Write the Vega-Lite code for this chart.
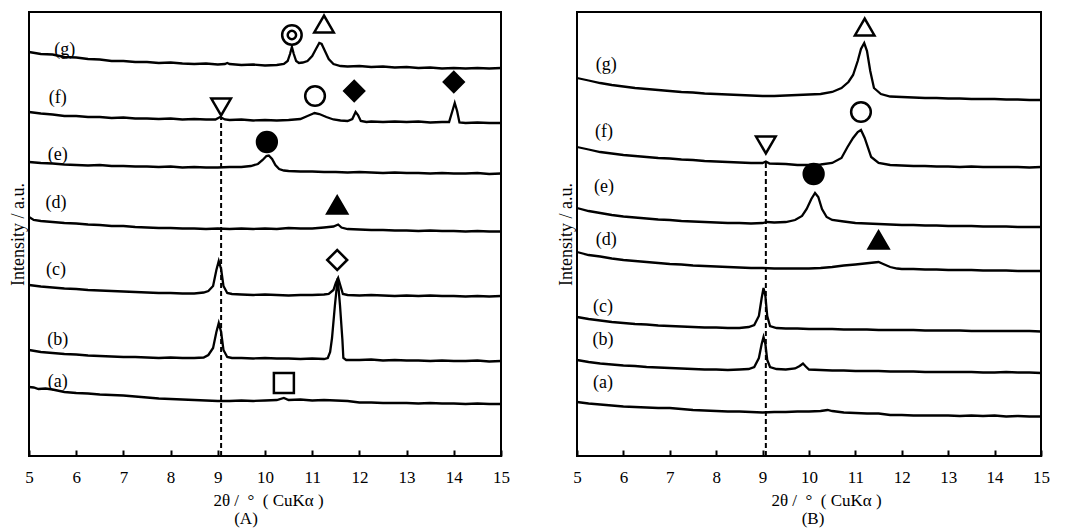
{
"$schema": "https://vega.github.io/schema/vega-lite/v6.json",
"padding": {"left": 8, "top": 9, "right": 5, "bottom": 0},
"background": "white",
"spacing": 76,
"bounds": "flush",
"config": {
  "view": {"stroke": "black", "strokeWidth": 2},
  "font": "Liberation Serif",
  "axis": {"grid": false, "labelFont": "Liberation Serif", "titleFont": "Liberation Serif", "labelColor": "black", "titleColor": "black", "titleFontWeight": "normal"},
  "title": {"font": "Liberation Serif", "fontSize": 17, "fontWeight": "normal", "color": "black"}
},
"datasets": {
  "lineA": [
{"s":"g","x":5.0,"y":404},{"s":"g","x":5.25,"y":402},{"s":"g","x":5.5,"y":401.5},{"s":"g","x":5.75,"y":399},{"s":"g","x":6.0,"y":398.5},{"s":"g","x":6.25,"y":397},{"s":"g","x":6.5,"y":396.5},{"s":"g","x":6.75,"y":395},{"s":"g","x":7.0,"y":395},{"s":"g","x":7.25,"y":394},{"s":"g","x":7.5,"y":394},{"s":"g","x":7.75,"y":393},{"s":"g","x":8.0,"y":393.5},{"s":"g","x":8.25,"y":392.5},{"s":"g","x":8.5,"y":392},{"s":"g","x":8.75,"y":392.5},{"s":"g","x":9.0,"y":391.5},{"s":"g","x":9.15,"y":392},{"s":"g","x":9.2,"y":393},{"s":"g","x":9.25,"y":392},{"s":"g","x":9.5,"y":391},{"s":"g","x":9.75,"y":391.5},{"s":"g","x":10.0,"y":390.5},{"s":"g","x":10.25,"y":391},{"s":"g","x":10.4,"y":392},{"s":"g","x":10.48,"y":395},{"s":"g","x":10.53,"y":402},{"s":"g","x":10.57,"y":409},{"s":"g","x":10.61,"y":402},{"s":"g","x":10.66,"y":395},{"s":"g","x":10.72,"y":393},{"s":"g","x":10.8,"y":393.5},{"s":"g","x":10.9,"y":395},{"s":"g","x":11.0,"y":400},{"s":"g","x":11.08,"y":407},{"s":"g","x":11.15,"y":413},{"s":"g","x":11.2,"y":412},{"s":"g","x":11.27,"y":405},{"s":"g","x":11.35,"y":397},{"s":"g","x":11.45,"y":392},{"s":"g","x":11.6,"y":390},{"s":"g","x":11.75,"y":389.5},{"s":"g","x":12.0,"y":390},{"s":"g","x":12.25,"y":389},{"s":"g","x":12.5,"y":389.5},{"s":"g","x":12.75,"y":388.5},{"s":"g","x":13.0,"y":389},{"s":"g","x":13.25,"y":388},{"s":"g","x":13.5,"y":388.5},{"s":"g","x":13.75,"y":387.5},{"s":"g","x":14.0,"y":388},{"s":"g","x":14.25,"y":387.5},{"s":"g","x":14.5,"y":388},{"s":"g","x":14.75,"y":387.5},{"s":"g","x":15.0,"y":388},
{"s":"f","x":5.0,"y":344},{"s":"f","x":5.25,"y":342.5},{"s":"f","x":5.5,"y":341.5},{"s":"f","x":5.75,"y":340},{"s":"f","x":6.0,"y":340},{"s":"f","x":6.25,"y":339},{"s":"f","x":6.5,"y":339},{"s":"f","x":6.75,"y":338},{"s":"f","x":7.0,"y":338.5},{"s":"f","x":7.25,"y":337.5},{"s":"f","x":7.5,"y":337.5},{"s":"f","x":7.75,"y":337},{"s":"f","x":8.0,"y":337.5},{"s":"f","x":8.25,"y":336.5},{"s":"f","x":8.5,"y":337},{"s":"f","x":8.75,"y":336.5},{"s":"f","x":8.95,"y":336.5},{"s":"f","x":9.05,"y":339},{"s":"f","x":9.15,"y":336.5},{"s":"f","x":9.25,"y":336},{"s":"f","x":9.5,"y":336.5},{"s":"f","x":9.75,"y":335.5},{"s":"f","x":10.0,"y":336},{"s":"f","x":10.25,"y":335.5},{"s":"f","x":10.5,"y":336},{"s":"f","x":10.75,"y":337},{"s":"f","x":10.9,"y":340},{"s":"f","x":11.0,"y":342},{"s":"f","x":11.05,"y":343},{"s":"f","x":11.15,"y":342},{"s":"f","x":11.3,"y":339},{"s":"f","x":11.45,"y":336.5},{"s":"f","x":11.6,"y":335.5},{"s":"f","x":11.75,"y":335},{"s":"f","x":11.85,"y":337},{"s":"f","x":11.92,"y":344},{"s":"f","x":11.97,"y":341},{"s":"f","x":12.03,"y":335},{"s":"f","x":12.15,"y":334},{"s":"f","x":12.25,"y":334.5},{"s":"f","x":12.5,"y":334},{"s":"f","x":12.75,"y":334.5},{"s":"f","x":13.0,"y":334},{"s":"f","x":13.25,"y":334.5},{"s":"f","x":13.5,"y":333.5},{"s":"f","x":13.75,"y":334},{"s":"f","x":13.9,"y":334},{"s":"f","x":13.97,"y":345},{"s":"f","x":14.02,"y":353},{"s":"f","x":14.07,"y":345},{"s":"f","x":14.12,"y":333.5},{"s":"f","x":14.25,"y":333},{"s":"f","x":14.5,"y":333.5},{"s":"f","x":14.75,"y":333},{"s":"f","x":15.0,"y":333},
{"s":"e","x":5.0,"y":294},{"s":"e","x":5.25,"y":293},{"s":"e","x":5.5,"y":292.5},{"s":"e","x":5.75,"y":291.5},{"s":"e","x":6.0,"y":291},{"s":"e","x":6.25,"y":290.5},{"s":"e","x":6.5,"y":291},{"s":"e","x":6.75,"y":290},{"s":"e","x":7.0,"y":290},{"s":"e","x":7.25,"y":289.5},{"s":"e","x":7.5,"y":289.5},{"s":"e","x":7.75,"y":289},{"s":"e","x":8.0,"y":289.5},{"s":"e","x":8.25,"y":288.5},{"s":"e","x":8.5,"y":289},{"s":"e","x":8.75,"y":288.5},{"s":"e","x":9.0,"y":288.5},{"s":"e","x":9.25,"y":289},{"s":"e","x":9.5,"y":289},{"s":"e","x":9.7,"y":290},{"s":"e","x":9.85,"y":292},{"s":"e","x":9.95,"y":296},{"s":"e","x":10.03,"y":300},{"s":"e","x":10.08,"y":300.5},{"s":"e","x":10.15,"y":297},{"s":"e","x":10.22,"y":291},{"s":"e","x":10.3,"y":287},{"s":"e","x":10.4,"y":285.5},{"s":"e","x":10.5,"y":285},{"s":"e","x":10.75,"y":284.5},{"s":"e","x":11.0,"y":284.5},{"s":"e","x":11.25,"y":284},{"s":"e","x":11.5,"y":284},{"s":"e","x":11.75,"y":283.5},{"s":"e","x":12.0,"y":284},{"s":"e","x":12.25,"y":283.5},{"s":"e","x":12.5,"y":283},{"s":"e","x":12.75,"y":283.5},{"s":"e","x":13.0,"y":283},{"s":"e","x":13.25,"y":283},{"s":"e","x":13.5,"y":282.5},{"s":"e","x":13.75,"y":283},{"s":"e","x":14.0,"y":282.5},{"s":"e","x":14.25,"y":282.5},{"s":"e","x":14.5,"y":283},{"s":"e","x":14.75,"y":282},{"s":"e","x":15.0,"y":282.5},
{"s":"d","x":5.0,"y":239},{"s":"d","x":5.1,"y":236},{"s":"d","x":5.25,"y":235},{"s":"d","x":5.5,"y":234},{"s":"d","x":5.75,"y":233},{"s":"d","x":6.0,"y":232.5},{"s":"d","x":6.25,"y":231.5},{"s":"d","x":6.5,"y":231},{"s":"d","x":6.75,"y":230},{"s":"d","x":7.0,"y":230},{"s":"d","x":7.25,"y":229},{"s":"d","x":7.5,"y":228.5},{"s":"d","x":7.75,"y":228},{"s":"d","x":8.0,"y":228},{"s":"d","x":8.25,"y":227.5},{"s":"d","x":8.5,"y":227.5},{"s":"d","x":8.75,"y":227},{"s":"d","x":9.0,"y":227.5},{"s":"d","x":9.25,"y":227},{"s":"d","x":9.5,"y":227.5},{"s":"d","x":9.75,"y":227},{"s":"d","x":10.0,"y":227.5},{"s":"d","x":10.25,"y":227},{"s":"d","x":10.5,"y":228},{"s":"d","x":10.75,"y":227.5},{"s":"d","x":11.0,"y":227.5},{"s":"d","x":11.25,"y":228.5},{"s":"d","x":11.45,"y":229.5},{"s":"d","x":11.55,"y":231.5},{"s":"d","x":11.62,"y":228.5},{"s":"d","x":11.75,"y":227},{"s":"d","x":12.0,"y":226.5},{"s":"d","x":12.25,"y":226},{"s":"d","x":12.5,"y":226},{"s":"d","x":12.75,"y":225.5},{"s":"d","x":13.0,"y":225.5},{"s":"d","x":13.25,"y":225},{"s":"d","x":13.5,"y":225.5},{"s":"d","x":13.75,"y":225},{"s":"d","x":14.0,"y":225},{"s":"d","x":14.25,"y":224.5},{"s":"d","x":14.5,"y":225},{"s":"d","x":14.75,"y":224.5},{"s":"d","x":15.0,"y":224.5},
{"s":"c","x":5.0,"y":171},{"s":"c","x":5.25,"y":169.5},{"s":"c","x":5.5,"y":168.5},{"s":"c","x":5.75,"y":167.5},{"s":"c","x":6.0,"y":167},{"s":"c","x":6.25,"y":166},{"s":"c","x":6.5,"y":165.5},{"s":"c","x":6.75,"y":165},{"s":"c","x":7.0,"y":164.5},{"s":"c","x":7.25,"y":164},{"s":"c","x":7.5,"y":163.5},{"s":"c","x":7.75,"y":163},{"s":"c","x":8.0,"y":163},{"s":"c","x":8.25,"y":162.5},{"s":"c","x":8.5,"y":162.5},{"s":"c","x":8.7,"y":163.5},{"s":"c","x":8.8,"y":165},{"s":"c","x":8.9,"y":170},{"s":"c","x":8.97,"y":186},{"s":"c","x":9.02,"y":195},{"s":"c","x":9.07,"y":187},{"s":"c","x":9.12,"y":170},{"s":"c","x":9.2,"y":163},{"s":"c","x":9.3,"y":162},{"s":"c","x":9.5,"y":161.5},{"s":"c","x":9.75,"y":161},{"s":"c","x":10.0,"y":161.5},{"s":"c","x":10.25,"y":161},{"s":"c","x":10.5,"y":160.5},{"s":"c","x":10.75,"y":161},{"s":"c","x":11.0,"y":161},{"s":"c","x":11.25,"y":161.5},{"s":"c","x":11.35,"y":162},{"s":"c","x":11.45,"y":166},{"s":"c","x":11.5,"y":173},{"s":"c","x":11.55,"y":178},{"s":"c","x":11.6,"y":170},{"s":"c","x":11.65,"y":162},{"s":"c","x":11.75,"y":161},{"s":"c","x":12.0,"y":160.5},{"s":"c","x":12.25,"y":161},{"s":"c","x":12.5,"y":160.5},{"s":"c","x":12.75,"y":160},{"s":"c","x":13.0,"y":160.5},{"s":"c","x":13.25,"y":160},{"s":"c","x":13.5,"y":160.5},{"s":"c","x":13.75,"y":160},{"s":"c","x":14.0,"y":160},{"s":"c","x":14.25,"y":159.5},{"s":"c","x":14.5,"y":160},{"s":"c","x":14.75,"y":159.5},{"s":"c","x":15.0,"y":160},
{"s":"b","x":5.0,"y":106},{"s":"b","x":5.25,"y":104},{"s":"b","x":5.5,"y":103},{"s":"b","x":5.75,"y":102},{"s":"b","x":6.0,"y":101.5},{"s":"b","x":6.25,"y":100.5},{"s":"b","x":6.5,"y":100},{"s":"b","x":6.75,"y":99.5},{"s":"b","x":7.0,"y":99},{"s":"b","x":7.25,"y":99},{"s":"b","x":7.5,"y":98.5},{"s":"b","x":7.75,"y":98},{"s":"b","x":8.0,"y":98.5},{"s":"b","x":8.25,"y":98},{"s":"b","x":8.5,"y":98},{"s":"b","x":8.7,"y":98.5},{"s":"b","x":8.8,"y":101},{"s":"b","x":8.9,"y":108},{"s":"b","x":8.97,"y":124},{"s":"b","x":9.02,"y":133},{"s":"b","x":9.07,"y":124},{"s":"b","x":9.12,"y":106},{"s":"b","x":9.2,"y":99},{"s":"b","x":9.3,"y":98},{"s":"b","x":9.5,"y":98},{"s":"b","x":9.75,"y":97.5},{"s":"b","x":10.0,"y":98},{"s":"b","x":10.25,"y":97.5},{"s":"b","x":10.5,"y":97.5},{"s":"b","x":10.75,"y":97},{"s":"b","x":11.0,"y":97.5},{"s":"b","x":11.25,"y":97},{"s":"b","x":11.33,"y":98},{"s":"b","x":11.38,"y":104},{"s":"b","x":11.42,"y":118},{"s":"b","x":11.48,"y":150},{"s":"b","x":11.54,"y":178},{"s":"b","x":11.59,"y":150},{"s":"b","x":11.64,"y":116},{"s":"b","x":11.66,"y":98},{"s":"b","x":11.72,"y":96},{"s":"b","x":12.0,"y":96},{"s":"b","x":12.25,"y":96.5},{"s":"b","x":12.5,"y":95.5},{"s":"b","x":12.75,"y":96},{"s":"b","x":13.0,"y":95.5},{"s":"b","x":13.25,"y":95.5},{"s":"b","x":13.5,"y":95},{"s":"b","x":13.75,"y":95.5},{"s":"b","x":14.0,"y":95},{"s":"b","x":14.25,"y":95},{"s":"b","x":14.5,"y":95.5},{"s":"b","x":14.75,"y":94.5},{"s":"b","x":15.0,"y":95},
{"s":"a","x":5.0,"y":69},{"s":"a","x":5.1,"y":68.5},{"s":"a","x":5.2,"y":67},{"s":"a","x":5.35,"y":67.5},{"s":"a","x":5.5,"y":66.5},{"s":"a","x":5.6,"y":65.5},{"s":"a","x":5.75,"y":64},{"s":"a","x":6.0,"y":63},{"s":"a","x":6.25,"y":62.5},{"s":"a","x":6.5,"y":61.5},{"s":"a","x":6.75,"y":61},{"s":"a","x":7.0,"y":60.5},{"s":"a","x":7.25,"y":59.5},{"s":"a","x":7.5,"y":58.5},{"s":"a","x":7.75,"y":57.5},{"s":"a","x":8.0,"y":57},{"s":"a","x":8.25,"y":56.5},{"s":"a","x":8.5,"y":56},{"s":"a","x":8.75,"y":55.5},{"s":"a","x":9.0,"y":55},{"s":"a","x":9.25,"y":55},{"s":"a","x":9.5,"y":55.5},{"s":"a","x":9.75,"y":55},{"s":"a","x":10.0,"y":55.5},{"s":"a","x":10.25,"y":56},{"s":"a","x":10.4,"y":58},{"s":"a","x":10.5,"y":56},{"s":"a","x":10.75,"y":56.5},{"s":"a","x":11.0,"y":55.5},{"s":"a","x":11.25,"y":56},{"s":"a","x":11.5,"y":55.5},{"s":"a","x":11.75,"y":55},{"s":"a","x":12.0,"y":53.5},{"s":"a","x":12.25,"y":53.5},{"s":"a","x":12.5,"y":53},{"s":"a","x":12.75,"y":53},{"s":"a","x":13.0,"y":53},{"s":"a","x":13.25,"y":52.5},{"s":"a","x":13.5,"y":53},{"s":"a","x":13.75,"y":52.5},{"s":"a","x":14.0,"y":52.5},{"s":"a","x":14.25,"y":52},{"s":"a","x":14.5,"y":52.5},{"s":"a","x":14.75,"y":52},{"s":"a","x":15.0,"y":52}
  ],
  "lineB": [
{"s":"g","x":5.0,"y":378},{"s":"g","x":5.25,"y":375.5},{"s":"g","x":5.5,"y":373},{"s":"g","x":5.75,"y":371},{"s":"g","x":6.0,"y":369.5},{"s":"g","x":6.25,"y":368},{"s":"g","x":6.5,"y":367},{"s":"g","x":6.75,"y":366},{"s":"g","x":7.0,"y":365},{"s":"g","x":7.25,"y":364},{"s":"g","x":7.5,"y":363.5},{"s":"g","x":7.75,"y":362.5},{"s":"g","x":8.0,"y":362},{"s":"g","x":8.25,"y":361.5},{"s":"g","x":8.5,"y":361},{"s":"g","x":8.75,"y":360.5},{"s":"g","x":9.0,"y":360},{"s":"g","x":9.25,"y":360},{"s":"g","x":9.5,"y":360.5},{"s":"g","x":9.75,"y":361},{"s":"g","x":10.0,"y":361.5},{"s":"g","x":10.25,"y":362},{"s":"g","x":10.5,"y":364},{"s":"g","x":10.7,"y":368},{"s":"g","x":10.85,"y":374},{"s":"g","x":10.95,"y":381},{"s":"g","x":11.05,"y":395},{"s":"g","x":11.12,"y":407},{"s":"g","x":11.19,"y":413},{"s":"g","x":11.25,"y":405},{"s":"g","x":11.32,"y":385},{"s":"g","x":11.4,"y":368},{"s":"g","x":11.55,"y":362},{"s":"g","x":11.75,"y":359.5},{"s":"g","x":12.0,"y":359},{"s":"g","x":12.25,"y":358.5},{"s":"g","x":12.5,"y":358},{"s":"g","x":12.75,"y":358},{"s":"g","x":13.0,"y":357.5},{"s":"g","x":13.25,"y":357.5},{"s":"g","x":13.5,"y":357},{"s":"g","x":13.75,"y":357},{"s":"g","x":14.0,"y":357},{"s":"g","x":14.25,"y":356.5},{"s":"g","x":14.5,"y":356.5},{"s":"g","x":14.75,"y":356},{"s":"g","x":15.0,"y":356},
{"s":"f","x":5.0,"y":309},{"s":"f","x":5.25,"y":306.5},{"s":"f","x":5.5,"y":304},{"s":"f","x":5.75,"y":302.5},{"s":"f","x":6.0,"y":301},{"s":"f","x":6.25,"y":300},{"s":"f","x":6.5,"y":299},{"s":"f","x":6.75,"y":298},{"s":"f","x":7.0,"y":297.5},{"s":"f","x":7.25,"y":296.5},{"s":"f","x":7.5,"y":296},{"s":"f","x":7.75,"y":295},{"s":"f","x":8.0,"y":294.5},{"s":"f","x":8.25,"y":294},{"s":"f","x":8.5,"y":293.5},{"s":"f","x":8.75,"y":293},{"s":"f","x":9.0,"y":293},{"s":"f","x":9.07,"y":294.5},{"s":"f","x":9.15,"y":292.5},{"s":"f","x":9.5,"y":292},{"s":"f","x":9.75,"y":291},{"s":"f","x":10.0,"y":291},{"s":"f","x":10.25,"y":291.5},{"s":"f","x":10.5,"y":293},{"s":"f","x":10.7,"y":298},{"s":"f","x":10.83,"y":309},{"s":"f","x":10.95,"y":318},{"s":"f","x":11.05,"y":324},{"s":"f","x":11.12,"y":326},{"s":"f","x":11.2,"y":318},{"s":"f","x":11.34,"y":299},{"s":"f","x":11.5,"y":293},{"s":"f","x":11.75,"y":291},{"s":"f","x":12.0,"y":290.5},{"s":"f","x":12.25,"y":290},{"s":"f","x":12.5,"y":290},{"s":"f","x":12.75,"y":289.5},{"s":"f","x":13.0,"y":289.5},{"s":"f","x":13.25,"y":289},{"s":"f","x":13.5,"y":289.5},{"s":"f","x":13.75,"y":289},{"s":"f","x":14.0,"y":289},{"s":"f","x":14.25,"y":289},{"s":"f","x":14.5,"y":289},{"s":"f","x":14.75,"y":288.5},{"s":"f","x":15.0,"y":289},
{"s":"e","x":5.0,"y":248},{"s":"e","x":5.25,"y":245},{"s":"e","x":5.5,"y":243},{"s":"e","x":5.75,"y":241},{"s":"e","x":6.0,"y":239.5},{"s":"e","x":6.25,"y":238.5},{"s":"e","x":6.5,"y":237.5},{"s":"e","x":6.75,"y":236.5},{"s":"e","x":7.0,"y":236},{"s":"e","x":7.25,"y":235},{"s":"e","x":7.5,"y":234.5},{"s":"e","x":7.75,"y":234},{"s":"e","x":8.0,"y":233.5},{"s":"e","x":8.25,"y":233},{"s":"e","x":8.5,"y":233},{"s":"e","x":8.75,"y":232.5},{"s":"e","x":9.0,"y":233},{"s":"e","x":9.1,"y":234},{"s":"e","x":9.25,"y":233.5},{"s":"e","x":9.5,"y":234},{"s":"e","x":9.7,"y":236},{"s":"e","x":9.85,"y":240},{"s":"e","x":9.95,"y":247},{"s":"e","x":10.05,"y":257},{"s":"e","x":10.13,"y":263},{"s":"e","x":10.2,"y":259},{"s":"e","x":10.28,"y":247},{"s":"e","x":10.38,"y":239},{"s":"e","x":10.5,"y":236},{"s":"e","x":10.75,"y":234.5},{"s":"e","x":11.0,"y":233},{"s":"e","x":11.25,"y":232.5},{"s":"e","x":11.5,"y":232},{"s":"e","x":11.75,"y":231.5},{"s":"e","x":12.0,"y":231},{"s":"e","x":12.25,"y":231},{"s":"e","x":12.5,"y":230.5},{"s":"e","x":12.75,"y":230.5},{"s":"e","x":13.0,"y":230},{"s":"e","x":13.25,"y":230},{"s":"e","x":13.5,"y":230},{"s":"e","x":13.75,"y":229.5},{"s":"e","x":14.0,"y":229.5},{"s":"e","x":14.25,"y":229.5},{"s":"e","x":14.5,"y":229},{"s":"e","x":14.75,"y":229},{"s":"e","x":15.0,"y":229},
{"s":"d","x":5.0,"y":204},{"s":"d","x":5.25,"y":201},{"s":"d","x":5.5,"y":199.5},{"s":"d","x":5.75,"y":197.5},{"s":"d","x":6.0,"y":196},{"s":"d","x":6.25,"y":195},{"s":"d","x":6.5,"y":194},{"s":"d","x":6.75,"y":193},{"s":"d","x":7.0,"y":192},{"s":"d","x":7.25,"y":191.5},{"s":"d","x":7.5,"y":190.5},{"s":"d","x":7.75,"y":190},{"s":"d","x":8.0,"y":189.5},{"s":"d","x":8.25,"y":189},{"s":"d","x":8.5,"y":188.5},{"s":"d","x":8.75,"y":188},{"s":"d","x":9.0,"y":188},{"s":"d","x":9.25,"y":187.5},{"s":"d","x":9.5,"y":187.5},{"s":"d","x":9.75,"y":187.5},{"s":"d","x":10.0,"y":187.5},{"s":"d","x":10.25,"y":188},{"s":"d","x":10.5,"y":189},{"s":"d","x":10.75,"y":190.5},{"s":"d","x":11.0,"y":191.5},{"s":"d","x":11.2,"y":192.5},{"s":"d","x":11.4,"y":193.5},{"s":"d","x":11.5,"y":194},{"s":"d","x":11.6,"y":192},{"s":"d","x":11.75,"y":189},{"s":"d","x":11.9,"y":187.5},{"s":"d","x":12.0,"y":187},{"s":"d","x":12.25,"y":187},{"s":"d","x":12.5,"y":186.5},{"s":"d","x":12.75,"y":186.5},{"s":"d","x":13.0,"y":186},{"s":"d","x":13.25,"y":186},{"s":"d","x":13.5,"y":186},{"s":"d","x":13.75,"y":185.5},{"s":"d","x":14.0,"y":185.5},{"s":"d","x":14.25,"y":185.5},{"s":"d","x":14.5,"y":185},{"s":"d","x":14.75,"y":185},{"s":"d","x":15.0,"y":185},
{"s":"c","x":5.0,"y":139},{"s":"c","x":5.25,"y":137},{"s":"c","x":5.5,"y":135.5},{"s":"c","x":5.75,"y":134},{"s":"c","x":6.0,"y":133},{"s":"c","x":6.25,"y":132},{"s":"c","x":6.5,"y":131.5},{"s":"c","x":6.75,"y":130.5},{"s":"c","x":7.0,"y":130},{"s":"c","x":7.25,"y":129.5},{"s":"c","x":7.5,"y":129},{"s":"c","x":7.75,"y":128.5},{"s":"c","x":8.0,"y":128.5},{"s":"c","x":8.25,"y":128},{"s":"c","x":8.5,"y":128},{"s":"c","x":8.7,"y":129},{"s":"c","x":8.82,"y":131},{"s":"c","x":8.92,"y":140},{"s":"c","x":8.98,"y":158},{"s":"c","x":9.02,"y":168},{"s":"c","x":9.06,"y":160},{"s":"c","x":9.1,"y":140},{"s":"c","x":9.16,"y":130},{"s":"c","x":9.3,"y":128},{"s":"c","x":9.5,"y":127.5},{"s":"c","x":9.75,"y":127.5},{"s":"c","x":10.0,"y":127},{"s":"c","x":10.25,"y":127},{"s":"c","x":10.5,"y":127},{"s":"c","x":10.75,"y":126.5},{"s":"c","x":11.0,"y":126.5},{"s":"c","x":11.25,"y":126.5},{"s":"c","x":11.5,"y":126},{"s":"c","x":11.75,"y":126},{"s":"c","x":12.0,"y":126},{"s":"c","x":12.25,"y":126},{"s":"c","x":12.5,"y":125.5},{"s":"c","x":12.75,"y":125.5},{"s":"c","x":13.0,"y":125.5},{"s":"c","x":13.25,"y":125.5},{"s":"c","x":13.5,"y":125},{"s":"c","x":13.75,"y":125},{"s":"c","x":14.0,"y":125},{"s":"c","x":14.25,"y":125},{"s":"c","x":14.5,"y":125},{"s":"c","x":14.75,"y":125},{"s":"c","x":15.0,"y":124.5},
{"s":"b","x":5.0,"y":96},{"s":"b","x":5.25,"y":94},{"s":"b","x":5.5,"y":92.5},{"s":"b","x":5.75,"y":91.5},{"s":"b","x":6.0,"y":90.5},{"s":"b","x":6.25,"y":90},{"s":"b","x":6.5,"y":89},{"s":"b","x":6.75,"y":88.5},{"s":"b","x":7.0,"y":88},{"s":"b","x":7.25,"y":87.5},{"s":"b","x":7.5,"y":87},{"s":"b","x":7.75,"y":86.5},{"s":"b","x":8.0,"y":86.5},{"s":"b","x":8.25,"y":86},{"s":"b","x":8.5,"y":86.5},{"s":"b","x":8.7,"y":87},{"s":"b","x":8.82,"y":89},{"s":"b","x":8.92,"y":98},{"s":"b","x":8.98,"y":112},{"s":"b","x":9.02,"y":119},{"s":"b","x":9.06,"y":112},{"s":"b","x":9.1,"y":96},{"s":"b","x":9.16,"y":89},{"s":"b","x":9.3,"y":87},{"s":"b","x":9.5,"y":86.5},{"s":"b","x":9.7,"y":87.5},{"s":"b","x":9.8,"y":90},{"s":"b","x":9.87,"y":92.5},{"s":"b","x":9.93,"y":89.5},{"s":"b","x":10.0,"y":86.5},{"s":"b","x":10.25,"y":86},{"s":"b","x":10.5,"y":85.5},{"s":"b","x":10.75,"y":85.5},{"s":"b","x":11.0,"y":85},{"s":"b","x":11.25,"y":85},{"s":"b","x":11.5,"y":85},{"s":"b","x":11.75,"y":84.5},{"s":"b","x":12.0,"y":84.5},{"s":"b","x":12.25,"y":84.5},{"s":"b","x":12.5,"y":84},{"s":"b","x":12.75,"y":84},{"s":"b","x":13.0,"y":84},{"s":"b","x":13.25,"y":84},{"s":"b","x":13.5,"y":84},{"s":"b","x":13.75,"y":83.5},{"s":"b","x":14.0,"y":83.5},{"s":"b","x":14.25,"y":84},{"s":"b","x":14.5,"y":83.5},{"s":"b","x":14.75,"y":83.5},{"s":"b","x":15.0,"y":83},
{"s":"a","x":5.0,"y":54},{"s":"a","x":5.25,"y":52.5},{"s":"a","x":5.5,"y":51.5},{"s":"a","x":5.75,"y":50.5},{"s":"a","x":6.0,"y":49.5},{"s":"a","x":6.25,"y":49},{"s":"a","x":6.5,"y":48.5},{"s":"a","x":6.75,"y":48},{"s":"a","x":7.0,"y":48},{"s":"a","x":7.25,"y":47},{"s":"a","x":7.5,"y":46},{"s":"a","x":7.75,"y":45.5},{"s":"a","x":8.0,"y":45},{"s":"a","x":8.25,"y":44.5},{"s":"a","x":8.5,"y":44.5},{"s":"a","x":8.75,"y":44},{"s":"a","x":9.0,"y":43.5},{"s":"a","x":9.25,"y":44},{"s":"a","x":9.5,"y":44},{"s":"a","x":9.75,"y":44.5},{"s":"a","x":10.0,"y":44.5},{"s":"a","x":10.25,"y":45},{"s":"a","x":10.4,"y":46},{"s":"a","x":10.5,"y":45},{"s":"a","x":10.75,"y":43.5},{"s":"a","x":11.0,"y":43},{"s":"a","x":11.25,"y":42.5},{"s":"a","x":11.5,"y":42.5},{"s":"a","x":11.75,"y":41},{"s":"a","x":12.0,"y":41},{"s":"a","x":12.25,"y":40.5},{"s":"a","x":12.5,"y":40.5},{"s":"a","x":12.75,"y":40.5},{"s":"a","x":13.0,"y":40.5},{"s":"a","x":13.25,"y":40},{"s":"a","x":13.5,"y":40.5},{"s":"a","x":13.75,"y":40},{"s":"a","x":14.0,"y":40.5},{"s":"a","x":14.25,"y":39.5},{"s":"a","x":14.5,"y":40},{"s":"a","x":14.75,"y":39.5},{"s":"a","x":15.0,"y":39.5}
  ],
  "markA": [
{"k":"dcircle","x":10.57,"y":421},{"k":"otri","x":11.25,"y":432},{"k":"otridown","x":9.07,"y":349},{"k":"ocircle","x":11.06,"y":360},{"k":"fdiamond","x":11.89,"y":365},{"k":"fdiamond","x":14.0,"y":374},{"k":"fcircle","x":10.04,"y":314},{"k":"ftri","x":11.53,"y":251},{"k":"odiamond","x":11.53,"y":196},{"k":"osquare","x":10.4,"y":73}
  ],
  "markB": [
{"k":"otri","x":11.2,"y":429},{"k":"ocircle","x":11.12,"y":344},{"k":"otridown","x":9.07,"y":311},{"k":"fcircle","x":10.1,"y":282},{"k":"ftri","x":11.5,"y":216}
  ],
  "labA": [
{"t":"(g)","x":5.76,"y":406},{"t":"(f)","x":5.61,"y":358},{"t":"(e)","x":5.61,"y":301},{"t":"(d)","x":5.57,"y":253},{"t":"(c)","x":5.57,"y":186},{"t":"(b)","x":5.61,"y":116},{"t":"(a)","x":5.61,"y":74}
  ],
  "labB": [
{"t":"(g)","x":5.63,"y":391},{"t":"(f)","x":5.58,"y":324},{"t":"(e)","x":5.58,"y":269},{"t":"(d)","x":5.63,"y":216},{"t":"(c)","x":5.56,"y":149},{"t":"(b)","x":5.56,"y":116},{"t":"(a)","x":5.56,"y":73}
  ],
  "ruleA": [{"x":9.07,"y":0,"y2":339}],
  "ruleB": [{"x":9.07,"y":0,"y2":294}]
},
"hconcat": [
  {
    "width": 472, "height": 444,
    "title": {"text": "(A)", "orient": "bottom", "anchor": "middle", "dx": -19, "offset": 3},
    "encoding": {
      "x": {"field": "x", "type": "quantitative", "scale": {"domain": [5, 15], "nice": false},
        "axis": {"title": "2θ /\u2002°\u2002( CuKα )", "titleX": 239, "values": [5,6,7,8,9,10,11,12,13,14,15], "format": "d", "labelFlush": false, "labelOverlap": false, "tickSize": -6, "tickWidth": 2, "tickColor": "black", "domain": false, "labelFontSize": 17, "labelPadding": 19, "titleFontSize": 17, "titlePadding": 7}},
      "y": {"field": "y", "type": "quantitative", "scale": {"domain": [0, 444], "nice": false},
        "axis": {"title": "Intensity / a.u.", "labels": false, "ticks": false, "domain": false, "titleFontSize": 18, "titlePadding": 2}}
    },
    "layer": [
      {"data": {"name": "ruleA"}, "mark": {"type": "rule", "stroke": "black", "strokeWidth": 2, "strokeDash": [5, 3]}, "encoding": {"y2": {"field": "y2"}}},
      {"data": {"name": "lineA"}, "mark": {"type": "line", "stroke": "black", "strokeWidth": 2.3}, "encoding": {"detail": {"field": "s"}}},
      {"data": {"name": "markA"}, "mark": {"type": "point", "stroke": "black", "strokeWidth": 2.5, "opacity": 1, "fillOpacity": 1},
        "encoding": {
          "shape": {"field": "k", "type": "nominal", "legend": null, "scale": {"domain": ["dcircle","otri","otridown","ocircle","fdiamond","fcircle","ftri","odiamond","osquare"], "range": ["circle","triangle-up","triangle-down","circle","diamond","circle","triangle-up","diamond","square"]}},
          "fill": {"field": "k", "type": "nominal", "legend": null, "scale": {"domain": ["dcircle","otri","otridown","ocircle","fdiamond","fcircle","ftri","odiamond","osquare"], "range": ["white","white","white","white","black","black","black","white","white"]}},
          "size": {"field": "k", "type": "nominal", "legend": null, "scale": {"domain": ["dcircle","otri","otridown","ocircle","fdiamond","fcircle","ftri","odiamond","osquare"], "range": [380,400,400,400,500,400,400,500,330]}}
        }},
      {"data": {"name": "markA"}, "transform": [{"filter": "datum.k == 'dcircle'"}], "mark": {"type": "point", "shape": "circle", "size": 70, "stroke": "black", "strokeWidth": 2.5, "fill": "white", "fillOpacity": 1, "opacity": 1}},
      {"data": {"name": "labA"}, "mark": {"type": "text", "font": "Liberation Serif", "fontSize": 18, "align": "center", "baseline": "middle", "color": "black"}, "encoding": {"text": {"field": "t"}}}
    ]
  },
  {
    "width": 464, "height": 444,
    "title": {"text": "(B)", "orient": "bottom", "anchor": "middle", "dx": 4, "offset": 3},
    "encoding": {
      "x": {"field": "x", "type": "quantitative", "scale": {"domain": [5, 15], "nice": false},
        "axis": {"title": "2θ /\u2002°\u2002( CuKα )", "titleX": 249, "values": [5,6,7,8,9,10,11,12,13,14,15], "format": "d", "labelFlush": false, "labelOverlap": false, "tickSize": -6, "tickWidth": 2, "tickColor": "black", "domain": false, "labelFontSize": 17, "labelPadding": 19, "titleFontSize": 17, "titlePadding": 7}},
      "y": {"field": "y", "type": "quantitative", "scale": {"domain": [0, 444], "nice": false},
        "axis": {"title": "Intensity / a.u.", "labels": false, "ticks": false, "domain": false, "titleFontSize": 18, "titlePadding": 2}}
    },
    "layer": [
      {"data": {"name": "ruleB"}, "mark": {"type": "rule", "stroke": "black", "strokeWidth": 2, "strokeDash": [5, 3]}, "encoding": {"y2": {"field": "y2"}}},
      {"data": {"name": "lineB"}, "mark": {"type": "line", "stroke": "black", "strokeWidth": 2.3}, "encoding": {"detail": {"field": "s"}}},
      {"data": {"name": "markB"}, "mark": {"type": "point", "stroke": "black", "strokeWidth": 2.5, "opacity": 1, "fillOpacity": 1},
        "encoding": {
          "shape": {"field": "k", "type": "nominal", "legend": null, "scale": {"domain": ["otri","otridown","ocircle","fcircle","ftri"], "range": ["triangle-up","triangle-down","circle","circle","triangle-up"]}},
          "fill": {"field": "k", "type": "nominal", "legend": null, "scale": {"domain": ["otri","otridown","ocircle","fcircle","ftri"], "range": ["white","white","white","black","black"]}},
          "size": {"field": "k", "type": "nominal", "legend": null, "scale": {"domain": ["otri","otridown","ocircle","fcircle","ftri"], "range": [400,400,400,400,400]}}
        }},
      {"data": {"name": "labB"}, "mark": {"type": "text", "font": "Liberation Serif", "fontSize": 18, "align": "center", "baseline": "middle", "color": "black"}, "encoding": {"text": {"field": "t"}}}
    ]
  }
]
}
